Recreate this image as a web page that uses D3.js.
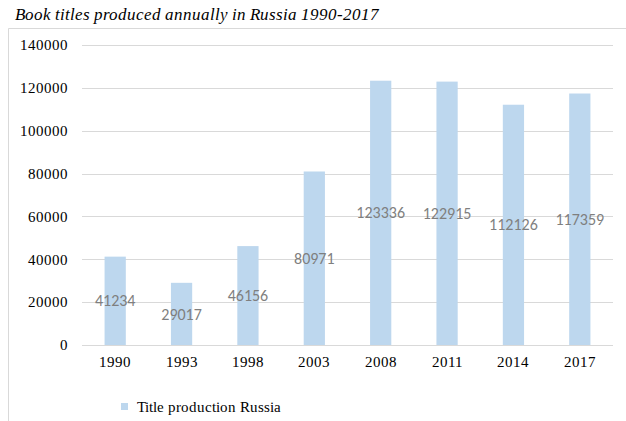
<!DOCTYPE html>
<html>
<head>
<meta charset="utf-8">
<script src="https://cdn.jsdelivr.net/npm/d3@7"></script>
<style>
  @font-face { font-family: "ChartSerif"; src: local("Liberation Serif"), local("LiberationSerif"), local("Tinos"); font-style: normal; }
  @font-face { font-family: "ChartSerif"; src: local("Liberation Serif Italic"), local("LiberationSerif-Italic"), local("Tinos Italic"); font-style: italic; }
  body { margin: 0; background: #fff; }
  svg { display: block; }
  svg text { font-family: "ChartSerif", "Liberation Serif", "Tinos", "Times New Roman", serif; }
  svg text.value { font-family: "Carlito", "Liberation Sans", sans-serif; }
</style>
</head>
<body>
<div id="chart"></div>
<script>
// Book titles per year
const years = ["1990", "1993", "1998", "2003", "2008", "2011", "2014", "2017"];
const titles = [41234, 29017, 46156, 80971, 123336, 122915, 112126, 117359];
const yTicks = [0, 20000, 40000, 60000, 80000, 100000, 120000, 140000];
const seriesName = "Title production Russia";
const chartTitle = "Book titles produced annually in Russia 1990-2017";

function createVisualization() {
    const svgWidth = 626;
    const svgHeight = 421;
    const margin = { top: 45, right: 13, bottom: 76, left: 82 };
    const width = svgWidth - margin.left - margin.right;
    const height = svgHeight - margin.top - margin.bottom;

    const root = d3.select("#chart")
        .append("svg")
        .attr("width", svgWidth)
        .attr("height", svgHeight);

    // Title above the frame
    root.append("text")
        .attr("x", 15)
        .attr("y", 20)
        .style("font-style", "italic")
        .style("font-size", "17px")
        .text(chartTitle);

    // Chart frame (top and left edges visible)
    root.append("path")
        .attr("d", `M8.5,${svgHeight} V28.5 H${svgWidth}`)
        .attr("fill", "none")
        .attr("stroke", "#d9d9d9");

    const svg = root.append("g")
        .attr("transform", `translate(${margin.left},${margin.top})`);

    // Scales
    const xScale = d3.scaleBand()
        .domain(years)
        .range([0, width])
        .paddingInner(0.68)
        .paddingOuter(0.34);

    const yScale = d3.scaleLinear()
        .domain([0, 140000])
        .range([height, 0]);

    // Gridlines
    svg.append("g")
        .selectAll("line")
        .data(yTicks)
        .enter().append("line")
        .attr("x1", 0)
        .attr("x2", width)
        .attr("y1", d => Math.round(yScale(d)) + 0.5)
        .attr("y2", d => Math.round(yScale(d)) + 0.5)
        .attr("stroke", "#d9d9d9");

    // Y axis labels
    svg.append("g")
        .call(d3.axisLeft(yScale).tickValues(yTicks).tickFormat(d3.format("d")).tickSize(0).tickPadding(14))
        .attr("font-family", null)
        .attr("font-size", null)
        .call(g => g.select(".domain").remove())
        .selectAll("text")
        .style("font-size", "15px")
        .attr("fill", "#000");

    // Bars
    svg.selectAll(".bar")
        .data(titles)
        .enter().append("rect")
        .attr("class", "bar")
        .attr("x", (d, i) => xScale(years[i]))
        .attr("y", d => yScale(d))
        .attr("width", xScale.bandwidth())
        .attr("height", d => height - yScale(d))
        .attr("fill", "#bdd7ee");

    // Value labels in the middle of each bar
    svg.selectAll(".value")
        .data(titles)
        .enter().append("text")
        .attr("class", "value")
        .attr("x", (d, i) => xScale(years[i]) + xScale.bandwidth() / 2)
        .attr("y", d => (yScale(d) + height) / 2)
        .attr("dy", "0.35em")
        .attr("text-anchor", "middle")
        .style("font-size", "16px")
        .attr("fill", "#7f7f7f")
        .text(d => d);

    // X axis labels
    svg.append("g")
        .attr("transform", `translate(0, ${height})`)
        .call(d3.axisBottom(xScale).tickSize(0).tickPadding(11))
        .attr("font-family", null)
        .attr("font-size", null)
        .call(g => g.select(".domain").remove())
        .selectAll("text")
        .style("font-size", "15px")
        .attr("fill", "#000");

    // Legend
    const legend = root.append("g")
        .attr("transform", "translate(121, 403)");

    legend.append("rect")
        .attr("width", 7)
        .attr("height", 7)
        .attr("fill", "#bdd7ee");

    legend.append("text")
        .attr("x", 16)
        .attr("y", 4)
        .attr("dy", "0.35em")
        .style("font-size", "15px")
        .text(seriesName);
}

createVisualization();
</script>
</body>
</html>
